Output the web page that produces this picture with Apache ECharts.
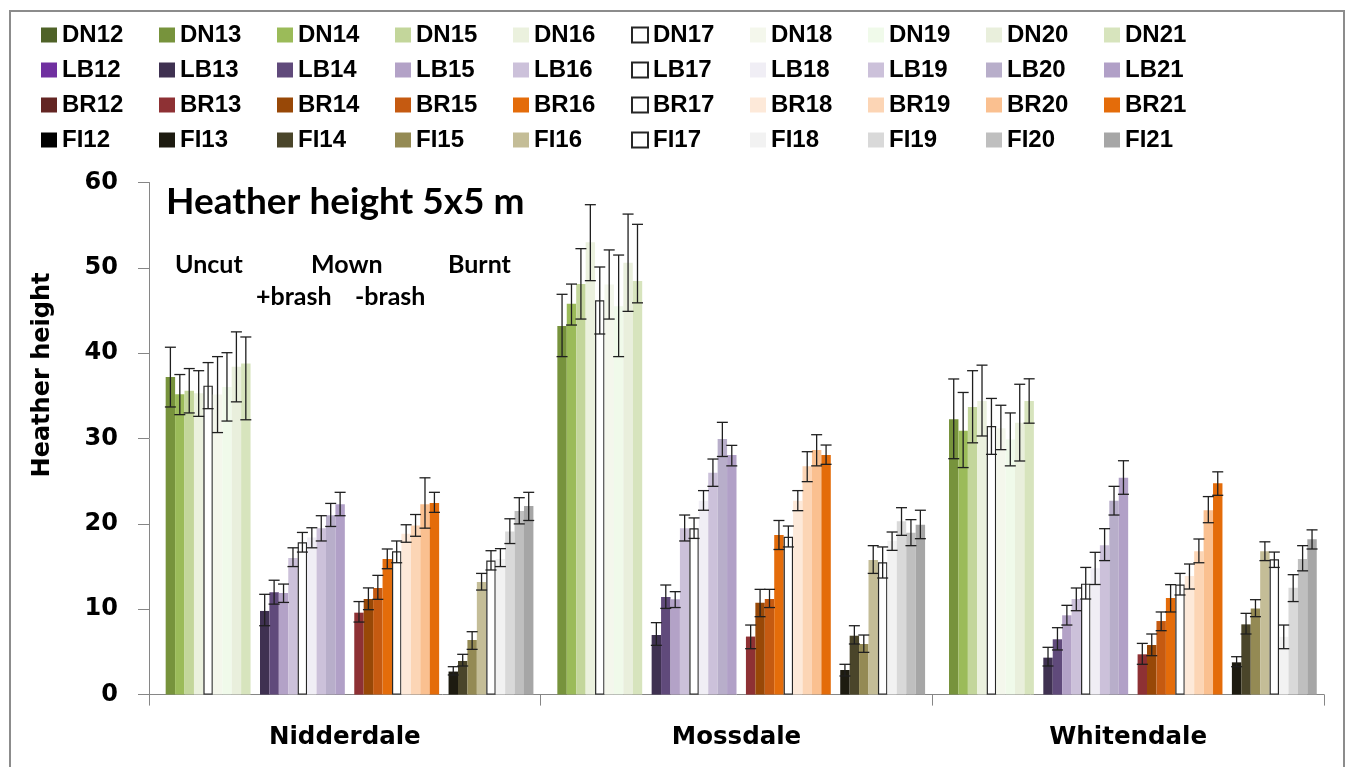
<!DOCTYPE html>
<html><head><meta charset="utf-8">
<script src="https://cdn.jsdelivr.net/npm/echarts@6/dist/echarts.min.js"></script>
<style>html,body{margin:0;padding:0;background:#fff}#c{width:1346px;height:767px}</style>
</head><body><div id="c"></div>
<script>
// ---- categories / labels ----
const sites = ['Nidderdale', 'Mossdale', 'Whitendale'];
const groupCodes = ['DN', 'LB', 'BR', 'FI'];
const years = ['12', '13', '14', '15', '16', '17', '18', '19', '20', '21'];
const yTicks = [0, 10, 20, 30, 40, 50, 60];

// ---- colours per group (index = year) ----
const dnColors = ['#4F6228', '#77933C', '#9BBB59', '#C3D69B', '#EBF1DE', '#FFFFFF', '#F4F7EC', '#F0FAEA', '#E9EFDC', '#D7E4BD'];
const lbColors = ['#7030A0', '#3F3151', '#604A7B', '#B3A2C7', '#CCC1DA', '#FFFFFF', '#F0EEF5', '#CCC1DA', '#B8AECA', '#B1A0C7'];
const brColors = ['#632523', '#8E3134', '#984807', '#C55A11', '#E46C0A', '#FFFFFF', '#FDE9D9', '#FCD5B5', '#FAC090', '#E46C0A'];
const fiColors = ['#000000', '#1D1B10', '#4A452A', '#948A54', '#C4BD97', '#FFFFFF', '#F2F2F2', '#D9D9D9', '#BFBFBF', '#A6A6A6'];

// ---- Nidderdale ----
const nidDN   = [null, 37.2, 35.2, 35.6, 35.3, 36.2, 35.15, 36.05, 38.4, 38.8];
const nidDNlo = [null, 33.7, 32.8, 33.0, 32.6, 33.5, 30.7, 32.05, 34.3, 32.2];
const nidDNhi = [null, 40.7, 37.5, 38.2, 37.95, 38.9, 39.6, 40.06, 42.5, 41.9];
const nidLB   = [null, 9.8, 12.0, 11.9, 16.0, 17.85, 18.4, 19.5, 21.0, 22.3];
const nidLBlo = [null, 8.07, 10.6, 10.8, 15.0, 16.7, 17.2, 18.0, 19.7, 20.96];
const nidLBhi = [null, 11.75, 13.4, 12.95, 17.2, 19.0, 19.55, 20.96, 22.4, 23.7];
const nidBR   = [null, 9.6, 11.2, 12.5, 15.9, 16.8, 18.85, 19.8, 22.3, 22.45];
const nidBRlo = [null, 8.5, 9.95, 11.16, 14.75, 15.45, 17.85, 18.55, 19.5, 21.35];
const nidBRhi = [null, 10.9, 12.5, 13.97, 17.06, 18.0, 19.9, 21.1, 25.4, 23.7];
const nidFI   = [null, 2.7, 3.94, 6.4, 13.2, 15.7, 15.9, 19.1, 21.5, 22.1];
const nidFIlo = [null, 2.3, 3.35, 5.3, 12.25, 14.6, 15.0, 17.7, 20.0, 20.4];
const nidFIhi = [null, 3.27, 4.72, 7.37, 14.2, 16.86, 17.1, 20.6, 23.07, 23.7];

// ---- Mossdale ----
const mosDN   = [null, 43.2, 45.8, 48.1, 53.0, 46.2, 48.05, 45.5, 50.6, 48.45];
const mosDNlo = [null, 39.6, 43.3, 44.0, 48.5, 42.25, 44.0, 39.6, 44.9, 45.9];
const mosDNhi = [null, 46.9, 48.1, 52.25, 57.4, 50.1, 52.1, 51.5, 56.3, 55.1];
const mosLB   = [null, 6.98, 11.43, 11.16, 19.48, 19.48, 22.7, 26.0, 29.95, 28.07];
const mosLBlo = [null, 5.77, 10.1, 10.2, 18.0, 18.3, 21.6, 24.4, 27.9, 26.8];
const mosLBhi = [null, 8.43, 12.84, 12.06, 21.04, 20.7, 23.9, 27.6, 31.9, 29.2];
const mosBR   = [null, 6.8, 10.77, 11.2, 18.7, 18.5, 22.7, 26.75, 28.66, 28.07];
const mosBRlo = [null, 5.38, 9.13, 10.2, 17.0, 17.3, 21.55, 24.95, 26.8, 26.98];
const mosBRhi = [null, 8.15, 12.33, 12.33, 20.4, 19.75, 23.9, 28.46, 30.45, 29.24];
const mosFI   = [null, 2.88, 6.9, 5.93, 15.77, 15.5, 18.03, 20.3, 18.97, 19.9];
const mosFIlo = [null, 2.18, 5.93, 4.95, 14.2, 13.66, 16.9, 18.66, 17.45, 18.27];
const mosFIhi = [null, 3.55, 8.07, 6.98, 17.45, 17.3, 19.05, 21.9, 20.5, 21.6];

// ---- Whitendale ----
const whiDN   = [null, 32.25, 30.9, 33.7, 34.4, 31.47, 31.2, 29.9, 31.86, 34.4];
const whiDNlo = [null, 27.64, 26.6, 29.5, 30.3, 28.15, 28.7, 26.8, 27.37, 31.8];
const whiDNhi = [null, 36.98, 35.4, 37.95, 38.6, 34.7, 33.9, 33.0, 36.36, 37.0];
const whiLB   = [null, 4.33, 6.48, 9.29, 11.2, 13.0, 14.8, 17.5, 22.7, 25.4];
const whiLBlo = [null, 3.35, 5.23, 8.15, 9.83, 11.2, 12.9, 15.7, 21.04, 23.47];
const whiLBhi = [null, 5.54, 7.84, 10.46, 12.49, 14.9, 16.67, 19.44, 24.4, 27.4];
const whiBR   = [null, 4.72, 5.81, 8.62, 11.32, 12.9, 13.9, 16.8, 21.6, 24.76];
const whiBRlo = [null, 3.55, 4.56, 7.49, 9.68, 11.67, 12.37, 15.45, 20.14, 23.35];
const whiBRhi = [null, 6.0, 7.1, 9.68, 12.88, 14.2, 15.3, 18.23, 23.2, 26.1];
const whiFI   = [null, 3.78, 8.23, 10.1, 16.8, 15.85, 6.77, 12.53, 15.89, 18.2];
const whiFIlo = [null, 3.27, 7.1, 9.13, 15.7, 14.9, 5.38, 10.9, 14.5, 17.06];
const whiFIhi = [null, 4.44, 9.52, 11.12, 17.9, 16.7, 8.15, 14.05, 17.45, 19.3];

// ---- assemble ----
const groupColors = [dnColors, lbColors, brColors, fiColors];
const means = [[nidDN, nidLB, nidBR, nidFI], [mosDN, mosLB, mosBR, mosFI], [whiDN, whiLB, whiBR, whiFI]];
const lows  = [[nidDNlo, nidLBlo, nidBRlo, nidFIlo], [mosDNlo, mosLBlo, mosBRlo, mosFIlo], [whiDNlo, whiLBlo, whiBRlo, whiFIlo]];
const highs = [[nidDNhi, nidLBhi, nidBRhi, nidFIhi], [mosDNhi, mosLBhi, mosBRhi, mosFIhi], [whiDNhi, whiLBhi, whiBRhi, whiFIhi]];

const CAT_GAP = 0.037;
const NBARS = groupCodes.length * years.length;
const axisGray = '#868686';
const dv = 'DejaVu Sans';

const series = [];
const names = [];
groupCodes.forEach((g, gi) => {
  years.forEach((y, yi) => {
    const name = g + y;
    names.push(name);
    const col = groupColors[gi][yi];
    const isWhite = col === '#FFFFFF';
    series.push({
      name: name, type: 'bar',
      barGap: '0%', barCategoryGap: (CAT_GAP * 100) + '%',
      data: sites.map((s, si) => means[si][gi][yi]),
      itemStyle: isWhite ? {color: col, borderColor: '#262626', borderWidth: 1.2} : {color: col},
      emphasis: {disabled: true}
    });
  });
});

const errData = [];
sites.forEach((s, si) => {
  groupCodes.forEach((g, gi) => {
    years.forEach((y, yi) => {
      if (means[si][gi][yi] != null) errData.push([si, gi * years.length + yi, lows[si][gi][yi], highs[si][gi][yi]]);
    });
  });
});

series.push({
  name: 'err', type: 'custom', z: 10, silent: true,
  data: errData,
  encode: {x: 0, y: [2, 3]},
  renderItem: function (params, api) {
    const cat = api.value(0), bi = api.value(1), lo = api.value(2), hi = api.value(3);
    const band = api.size([1, 0])[0];
    const used = band * (1 - CAT_GAP);
    const bw = used / NBARS;
    const cx = api.coord([cat, 0])[0] - used / 2 + bw * (bi + 0.5);
    const yl = api.coord([cat, lo])[1], yh = api.coord([cat, hi])[1];
    const hw = 5.5;
    const st = {stroke: '#1f1f1f', lineWidth: 1.3};
    return {type: 'group', children: [
      {type: 'line', shape: {x1: cx, y1: yl, x2: cx, y2: yh}, style: st},
      {type: 'line', shape: {x1: cx - hw, y1: yl, x2: cx + hw, y2: yl}, style: st},
      {type: 'line', shape: {x1: cx - hw, y1: yh, x2: cx + hw, y2: yh}, style: st}
    ]};
  }
});

const chart = echarts.init(document.getElementById('c'), null, {renderer: 'canvas'});
const annFont = 'Lato, "Liberation Sans", sans-serif';
chart.setOption({
  animation: false,
  backgroundColor: '#fff',
  grid: {left: 149, right: 22, top: 182.5, bottom: 72.4, containLabel: false},
  legend: {
    data: names, left: 41, top: 23, width: 1240, orient: 'horizontal', padding: 0,
    itemWidth: 16, itemHeight: 15, itemGap: 11, icon: 'rect',
    selectedMode: false,
    textStyle: {fontFamily: '"Liberation Sans", Arial, sans-serif', fontWeight: 'bold', fontSize: 24, color: '#000', width: 86, lineHeight: 22}
  },
  xAxis: {
    type: 'category', data: sites,
    axisLine: {lineStyle: {color: axisGray, width: 1}},
    axisTick: {show: true, length: 11, lineStyle: {color: axisGray}},
    axisLabel: {margin: 31, fontFamily: dv, fontWeight: 'bold', fontSize: 24.5, color: '#000'},
    splitLine: {show: false}
  },
  yAxis: {
    type: 'value', min: yTicks[0], max: yTicks[yTicks.length - 1], interval: 10,
    axisLine: {show: true, lineStyle: {color: axisGray, width: 1}},
    axisTick: {show: true, length: 11, lineStyle: {color: axisGray}},
    axisLabel: {margin: 31, fontFamily: dv, fontWeight: 'bold', fontSize: 24, color: '#000'},
    splitLine: {show: false}
  },
  graphic: [
    {type: 'rect', z: -10, shape: {x: 10, y: 11, width: 1334, height: 800}, style: {fill: 'none', stroke: '#8c8c8c', lineWidth: 2}},
    {type: 'text', x: 43, y: 375, rotation: Math.PI / 2, style: {text: 'Heather height', fontFamily: dv, fontWeight: 'bold', fontSize: 24, fill: '#000', align: 'center', verticalAlign: 'middle'}},
    {type: 'text', x: 166, y: 202, style: {text: 'Heather height 5x5 m', fontFamily: annFont, fontWeight: 'bold', fontSize: 37, fill: '#000', align: 'left', verticalAlign: 'middle'}},
    {type: 'text', x: 175, y: 265, style: {text: 'Uncut', fontFamily: annFont, fontWeight: 'bold', fontSize: 25, fill: '#000', align: 'left', verticalAlign: 'middle'}},
    {type: 'text', x: 311, y: 265, style: {text: 'Mown', fontFamily: annFont, fontWeight: 'bold', fontSize: 25, fill: '#000', align: 'left', verticalAlign: 'middle'}},
    {type: 'text', x: 448, y: 265, style: {text: 'Burnt', fontFamily: annFont, fontWeight: 'bold', fontSize: 25, fill: '#000', align: 'left', verticalAlign: 'middle'}},
    {type: 'text', x: 256, y: 297, style: {text: '+brash', fontFamily: annFont, fontWeight: 'bold', fontSize: 25, fill: '#000', align: 'left', verticalAlign: 'middle'}},
    {type: 'text', x: 355, y: 297, style: {text: '-brash', fontFamily: annFont, fontWeight: 'bold', fontSize: 25, fill: '#000', align: 'left', verticalAlign: 'middle'}}
  ],
  series: series
});
</script></body></html>
